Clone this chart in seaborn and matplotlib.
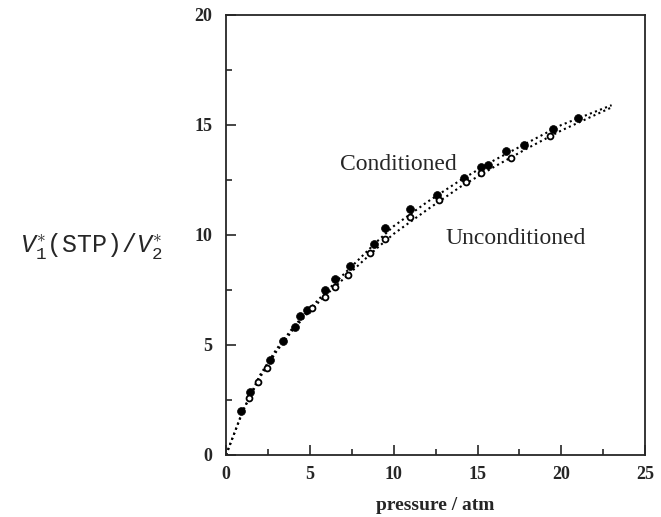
import matplotlib
matplotlib.use("Agg")
import matplotlib.pyplot as plt
import seaborn as sns
import pandas as pd
from matplotlib.ticker import MultipleLocator

sns.set_style("ticks")
plt.rcParams['font.family'] = ['Liberation Serif', 'DejaVu Serif']

# Data
cond_p = [0.9, 1.45, 2.6, 3.4, 4.1, 4.4, 4.85, 5.9, 6.5, 7.4, 8.8, 9.5, 11.0, 12.6, 14.2, 15.2, 15.6, 16.7, 17.8, 19.5, 21.0]
cond_v = [2.0, 2.85, 4.3, 5.2, 5.8, 6.3, 6.6, 7.5, 8.0, 8.6, 9.6, 10.3, 11.2, 11.8, 12.6, 13.1, 13.2, 13.8, 14.1, 14.8, 15.3]
unc_p = [1.35, 1.9, 2.45, 5.1, 5.9, 6.5, 7.3, 8.6, 9.5, 11.0, 12.7, 14.3, 15.2, 17.0, 19.3]
unc_v = [2.6, 3.3, 3.95, 6.7, 7.2, 7.65, 8.2, 9.2, 9.8, 10.8, 11.6, 12.4, 12.8, 13.5, 14.5]

fit_p = [0, 0.5, 1, 2, 3, 4, 5, 6, 7, 8, 9, 10, 12, 14, 16, 18, 20, 23]
fitc_v = [0, 1.0, 2.0, 3.6, 4.8, 5.8, 6.65, 7.45, 8.2, 8.95, 9.7, 10.4, 11.5, 12.5, 13.4, 14.2, 15.0, 15.9]
fitu_v = [0, 1.0, 2.0, 3.5, 4.7, 5.7, 6.55, 7.3, 8.0, 8.7, 9.4, 10.05, 11.15, 12.2, 13.1, 13.95, 14.75, 15.8]

xticks = [0, 5, 10, 15, 20, 25]
yticks = [0, 5, 10, 15, 20]

fig = plt.figure(figsize=(6.61, 5.17), dpi=100)
ax = fig.add_axes([0.342, 0.120, 0.634, 0.851])

sns.lineplot(x=fit_p, y=fitc_v, ax=ax, color='black', linestyle=(0, (1, 1.6)), linewidth=1.5)
sns.lineplot(x=fit_p, y=fitu_v, ax=ax, color='black', linestyle=(0, (1, 1.6)), linewidth=1.5)
sns.scatterplot(x=cond_p, y=cond_v, ax=ax, color='black', s=32, edgecolor='black', linewidth=0.5, zorder=3)
sns.scatterplot(x=unc_p, y=unc_v, ax=ax, facecolor='white', s=18, edgecolor='black', linewidth=1.3, zorder=3)

ax.set_xlim(0, 25)
ax.set_ylim(0, 20)
ax.set_xticks(xticks)
ax.set_yticks(yticks)
ax.xaxis.set_minor_locator(MultipleLocator(2.5))
ax.yaxis.set_minor_locator(MultipleLocator(2.5))
ax.tick_params(which='both', direction='in', top=False, right=False, labelsize=13, width=1.2)
ax.tick_params(which='major', length=7)
ax.tick_params(which='minor', length=4)
ax.tick_params(axis='x', which='major', pad=8)
ax.tick_params(axis='y', which='major', pad=10)
for lab in ax.get_xticklabels() + ax.get_yticklabels():
    lab.set_fontweight('bold')
for s in ax.spines.values():
    s.set_linewidth(1.3)
    s.set_visible(True)

ax.set_xlabel('pressure / atm', fontsize=14, fontweight='bold', labelpad=10)
ax.text(10.3, 13.2, 'Conditioned', fontsize=17, ha='center', va='center')
ax.text(17.3, 9.85, 'Unconditioned', fontsize=17, ha='center', va='center')

plt.rcParams['mathtext.fontset'] = 'custom'
plt.rcParams['mathtext.it'] = 'Liberation Mono:italic'
plt.rcParams['mathtext.rm'] = 'Liberation Mono'
fig.text(0.03, 0.525, r'$V_1^{\ast}$(STP)/$V_2^{\ast}$', fontsize=18, family='Liberation Mono', ha='left', va='center')

fig.savefig('out.png', dpi=100)
